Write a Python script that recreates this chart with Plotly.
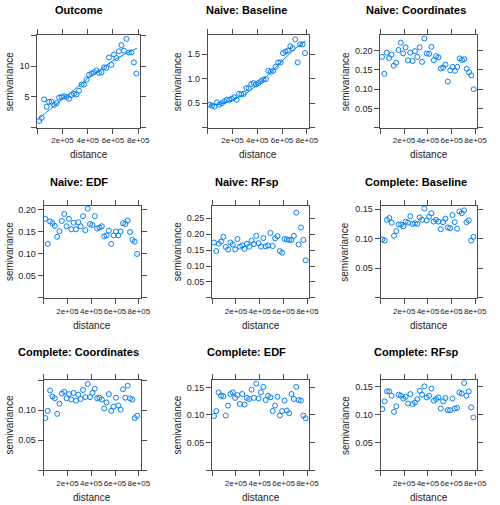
import plotly.graph_objects as go

# ---- data ----
DIST = [15000, 34750, 54500, 74250, 94000, 113750, 133500, 153250, 173000, 192750,
        212500, 232250, 252000, 271750, 291500, 311250, 331000, 350750, 370500, 390250,
        410000, 429750, 449500, 469250, 489000, 508750, 528500, 548250, 568000, 587750,
        607500, 627250, 647000, 666750, 686500, 706250, 726000, 745750, 765500, 785250]

OUTCOME = [1.1, 1.6, 4.6, 3.4, 4.2, 4.2, 3.7, 4.0, 4.9, 5.0,
           5.1, 5.0, 4.7, 5.3, 5.5, 5.4, 6.0, 7.0, 7.0, 7.8,
           8.6, 8.8, 9.0, 9.3, 8.9, 9.0, 9.8, 9.7, 11.4, 10.2,
           11.9, 11.3, 12.4, 13.4, 12.5, 14.4, 12.2, 12.2, 10.6, 8.8]
OUTCOME_FIT_D = [10000, 100000, 200000, 300000, 400000, 500000, 600000, 700000, 790000]
OUTCOME_FIT_G = [1.45, 3.0, 4.6, 6.3, 8.0, 9.5, 10.9, 12.0, 12.9]

NAIVE_BASELINE = [0.47, 0.45, 0.43, 0.52, 0.47, 0.50, 0.54, 0.57, 0.57, 0.59,
                  0.62, 0.57, 0.69, 0.68, 0.69, 0.81, 0.80, 0.89, 0.91, 0.88,
                  0.91, 0.95, 0.98, 0.99, 1.16, 1.14, 1.16, 1.24, 1.33, 1.33,
                  1.52, 1.55, 1.57, 1.66, 1.62, 1.80, 1.33, 1.70, 1.70, 1.52]
NAIVE_BASELINE_FIT_D = [10000, 100000, 200000, 300000, 400000, 500000, 600000, 700000, 790000]
NAIVE_BASELINE_FIT_G = [0.46, 0.48, 0.56, 0.68, 0.87, 1.10, 1.36, 1.60, 1.77]

NAIVE_COORD = [0.184, 0.140, 0.195, 0.181, 0.190, 0.161, 0.169, 0.202, 0.221, 0.193,
               0.209, 0.175, 0.195, 0.173, 0.199, 0.184, 0.209, 0.171, 0.232, 0.193,
               0.192, 0.210, 0.175, 0.186, 0.183, 0.154, 0.156, 0.164, 0.120, 0.149,
               0.158, 0.148, 0.158, 0.180, 0.176, 0.178, 0.153, 0.144, 0.136, 0.100]

NAIVE_EDF = [0.180, 0.123, 0.174, 0.170, 0.164, 0.139, 0.152, 0.175, 0.191, 0.163,
             0.180, 0.156, 0.171, 0.156, 0.172, 0.163, 0.186, 0.154, 0.203, 0.168,
             0.166, 0.186, 0.158, 0.160, 0.163, 0.140, 0.142, 0.153, 0.123, 0.142,
             0.151, 0.142, 0.151, 0.170, 0.168, 0.176, 0.150, 0.132, 0.128, 0.100]

NAIVE_RFSP = [0.174, 0.147, 0.170, 0.177, 0.192, 0.160, 0.152, 0.174, 0.168, 0.152,
              0.185, 0.161, 0.165, 0.154, 0.170, 0.161, 0.180, 0.169, 0.195, 0.172,
              0.161, 0.188, 0.162, 0.165, 0.204, 0.163, 0.187, 0.194, 0.147, 0.142,
              0.185, 0.184, 0.182, 0.182, 0.195, 0.268, 0.168, 0.221, 0.182, 0.118]

COMPLETE_BASELINE = [0.099, 0.097, 0.132, 0.135, 0.127, 0.105, 0.113, 0.124, 0.124, 0.121,
                     0.129, 0.127, 0.138, 0.125, 0.126, 0.125, 0.136, 0.132, 0.151, 0.131,
                     0.137, 0.143, 0.129, 0.132, 0.129, 0.116, 0.128, 0.134, 0.119, 0.118,
                     0.140, 0.128, 0.117, 0.146, 0.143, 0.148, 0.128, 0.131, 0.097, 0.103]

COMPLETE_COORD = [0.087, 0.099, 0.133, 0.123, 0.120, 0.094, 0.111, 0.128, 0.131, 0.120,
                  0.127, 0.118, 0.129, 0.116, 0.126, 0.119, 0.134, 0.122, 0.144, 0.122,
                  0.129, 0.136, 0.120, 0.121, 0.118, 0.103, 0.113, 0.127, 0.099, 0.106,
                  0.121, 0.108, 0.101, 0.135, 0.121, 0.141, 0.120, 0.118, 0.087, 0.091]

COMPLETE_EDF = [0.098, 0.107, 0.141, 0.135, 0.134, 0.099, 0.117, 0.138, 0.141, 0.131,
                0.136, 0.120, 0.138, 0.119, 0.131, 0.129, 0.146, 0.131, 0.157, 0.130,
                0.141, 0.151, 0.127, 0.135, 0.132, 0.107, 0.117, 0.133, 0.099, 0.107,
                0.126, 0.108, 0.103, 0.138, 0.129, 0.151, 0.127, 0.126, 0.099, 0.094]

COMPLETE_RFSP = [0.110, 0.124, 0.142, 0.142, 0.134, 0.105, 0.115, 0.136, 0.134, 0.129,
                 0.132, 0.120, 0.137, 0.119, 0.122, 0.128, 0.143, 0.136, 0.151, 0.131,
                 0.134, 0.147, 0.125, 0.128, 0.131, 0.111, 0.124, 0.130, 0.108, 0.108,
                 0.129, 0.111, 0.112, 0.140, 0.138, 0.157, 0.134, 0.142, 0.113, 0.095]

TITLES = ["Outcome", "Naive: Baseline", "Naive: Coordinates",
          "Naive: EDF", "Naive: RFsp", "Complete: Baseline",
          "Complete: Coordinates", "Complete: EDF", "Complete: RFsp"]
SERIES = [OUTCOME, NAIVE_BASELINE, NAIVE_COORD, NAIVE_EDF, NAIVE_RFSP,
          COMPLETE_BASELINE, COMPLETE_COORD, COMPLETE_EDF, COMPLETE_RFSP]
FITS = {0: (OUTCOME_FIT_D, OUTCOME_FIT_G), 1: (NAIVE_BASELINE_FIT_D, NAIVE_BASELINE_FIT_G)}

Y_TICKVALS = [[0, 5, 10, 15], [0, 0.5, 1.0, 1.5], [0, 0.05, 0.10, 0.15, 0.20],
              [0, 0.05, 0.10, 0.15, 0.20], [0, 0.05, 0.10, 0.15, 0.20, 0.25],
              [0, 0.05, 0.10, 0.15], [0, 0.05, 0.10, 0.15],
              [0, 0.05, 0.10, 0.15], [0, 0.05, 0.10, 0.15]]
Y_TICKTEXT = [["", "5", "10", ""], ["", "0.5", "1.0", "1.5"],
              ["", "0.05", "0.10", "0.15", "0.20"], ["", "0.05", "0.10", "0.15", "0.20"],
              ["", "0.05", "0.10", "0.15", "0.20", "0.25"], ["", "0.05", "0.10", "0.15"],
              ["", "0.05", "0.10", ""], ["", "0.05", "0.10", "0.15"], ["", "0.05", "0.10", "0.15"]]
Y_MAX = [15.05, 1.89, 0.241, 0.21, 0.29, 0.156, 0.1502, 0.163, 0.162]

X_TICKVALS = [0, 200000, 400000, 600000, 800000]
X_TICKTEXT = ["", "2e+05", "4e+05", "6e+05", "8e+05"]
X_MAX = 815000

# ---- layout geometry (pixels) ----
W, H = 500, 505
COL_BOX = [[(38, 143), (212, 315), (388, 487)],
           [(44.5, 143.5), (216.5, 315.5), (388.3, 486.7)],
           [(44.5, 143.5), (216.5, 315.5), (388.3, 486.7)]]
ROW_BOX = [(34, 127), (205, 297.5), (380, 470)]
TITLE_Y = [9.5, 181.5, 352]
XLAB_Y = [154, 325, 497]
TITLE_X = [80.5, 252, 424.7]
YLAB_X = [[10, 180.5, 352], [9.5, 181, 352], [9.5, 181, 352]]

COLOR = "#0080ff"
AXCOL = "#4d4d4d"
FONT = "Liberation Sans, Arial, sans-serif"

fig = go.Figure()
annotations = []
for k in range(9):
    r, c = divmod(k, 3)
    x0, x1 = COL_BOX[r][c]
    y0, y1 = ROW_BOX[r]
    ax = "" if k == 0 else str(k + 1)
    fig.add_trace(go.Scatter(x=DIST, y=SERIES[k], mode="markers",
                             marker=dict(symbol="circle-open", size=5, color=COLOR,
                                         line=dict(width=1, color=COLOR)),
                             xaxis="x" + ax, yaxis="y" + ax, showlegend=False))
    if k in FITS:
        d, g = FITS[k]
        fig.add_trace(go.Scatter(x=d, y=g, mode="lines", line=dict(color=COLOR, width=1),
                                 xaxis="x" + ax, yaxis="y" + ax, showlegend=False))
    common = dict(showline=True, linecolor=AXCOL, linewidth=1, mirror="ticks",
                  ticks="outside", ticklen=5, tickcolor=AXCOL, tickwidth=1,
                  showgrid=False, zeroline=False, tickangle=0)
    fig.update_layout(**{
        "xaxis" + ax: dict(domain=[x0 / W, x1 / W], range=[0, X_MAX], anchor="y" + ax,
                           tickmode="array", tickvals=X_TICKVALS, ticktext=X_TICKTEXT,
                           tickfont=dict(size=8, color="#222222", family=FONT), **common),
        "yaxis" + ax: dict(domain=[1 - y1 / H, 1 - y0 / H], range=[0, Y_MAX[k]], anchor="x" + ax,
                           tickmode="array", tickvals=Y_TICKVALS[k], ticktext=Y_TICKTEXT[k],
                           tickfont=dict(size=9, color="#222222", family=FONT), **common),
    })
    annotations.append(dict(text="<b>" + TITLES[k] + "</b>", x=TITLE_X[c] / W, y=1 - TITLE_Y[r] / H,
                            xref="paper", yref="paper", showarrow=False, xanchor="center", yanchor="middle",
                            font=dict(size=11, color="black", family=FONT)))
    annotations.append(dict(text="distance", x=(x0 + x1) / 2 / W, y=1 - XLAB_Y[r] / H,
                            xref="paper", yref="paper", showarrow=False, xanchor="center", yanchor="middle",
                            font=dict(size=10, color="#222222", family=FONT)))
    annotations.append(dict(text="semivariance", x=YLAB_X[r][c] / W, y=1 - (y0 + y1) / 2 / H,
                            xref="paper", yref="paper", showarrow=False, xanchor="center", yanchor="middle",
                            textangle=-90, font=dict(size=10, color="#222222", family=FONT)))

fig.update_layout(width=W, height=H, margin=dict(l=0, r=0, t=0, b=0),
                  paper_bgcolor="white", plot_bgcolor="white",
                  annotations=annotations, font=dict(family=FONT))
fig.write_html("out.html", config={"displayModeBar": False},
               post_script="document.body.style.margin='0';document.body.style.overflow='hidden';")
